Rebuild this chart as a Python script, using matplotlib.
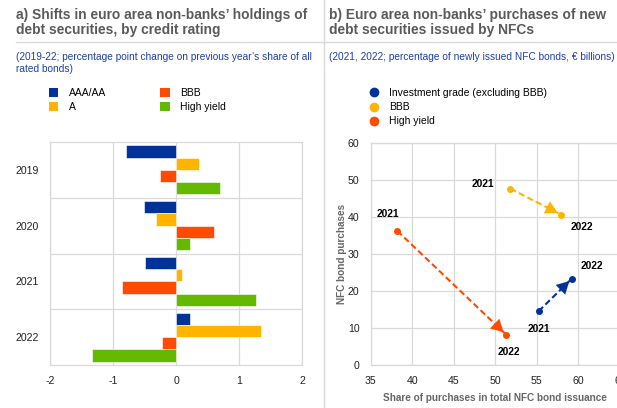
import matplotlib
matplotlib.use("Agg")
import matplotlib.pyplot as plt
from matplotlib.lines import Line2D
from matplotlib.patches import Patch

plt.rcParams['font.family'] = ['Liberation Sans', 'DejaVu Sans']

# ---------------- data ----------------
years = ["2019", "2020", "2021", "2022"]
ratings = ["AAA/AA", "A", "BBB", "High yield"]
aaa_aa = [-0.80, -0.51, -0.49, 0.22]
a_rated = [0.36, -0.31, 0.09, 1.35]
bbb = [-0.25, 0.60, -0.85, -0.23]
high_yield = [0.70, 0.22, 1.27, -1.33]

groups_b = ["Investment grade (excluding BBB)", "BBB", "High yield"]
share_2021 = [55.2, 51.8, 38.2]
share_2022 = [59.2, 57.9, 51.3]
purch_2021 = [14.5, 47.6, 36.2]
purch_2022 = [23.3, 40.6, 8.2]
label_2021_pos = [(55.2, 9.7), (48.5, 48.9), (37.1, 40.8)]
label_2022_pos = [(61.6, 26.7), (60.4, 37.2), (51.6, 3.6)]

BLUE = "#003299"
YELLOW = "#FFB400"
ORANGE = "#FF4B00"
GREEN = "#65B800"
GRID = "#d9d9d9"
TITLE_C = "#5a5a5a"
SUB_C = "#1f3fa8"
TICK_C = "#222222"

W, H = 617, 408
fig = plt.figure(figsize=(W / 100, H / 100), dpi=100)

def fx(px):
    return px / W

def fy(py):
    return 1 - py / H

# separators
fig.add_artist(Line2D([fx(16), 1], [fy(42), fy(42)], color=GRID, lw=1, transform=fig.transFigure))
fig.add_artist(Line2D([fx(324), fx(324)], [0, 1], color=GRID, lw=1, transform=fig.transFigure))

# titles
fig.text(fx(16), fy(8), "a) Shifts in euro area non-banks\u2019 holdings of\ndebt securities, by credit rating",
         ha="left", va="top", fontsize=9.9, fontweight="bold", color=TITLE_C, linespacing=1.12)
fig.text(fx(329), fy(8), "b) Euro area non-banks\u2019 purchases of new\ndebt securities issued by NFCs",
         ha="left", va="top", fontsize=9.9, fontweight="bold", color=TITLE_C, linespacing=1.12)
fig.text(fx(16), fy(52), "(2019-22; percentage point change on previous year\u2019s share of all\nrated bonds)",
         ha="left", va="top", fontsize=7.3, color=SUB_C, linespacing=1.3)
fig.text(fx(329), fy(52), "(2021, 2022; percentage of newly issued NFC bonds, \u20ac billions)",
         ha="left", va="top", fontsize=7.3, color=SUB_C)

# ---------------- panel a ----------------
axa = fig.add_axes([fx(50), fy(365), fx(302 - 50), (365 - 142) / H])
series = [aaa_aa, a_rated, bbb, high_yield]
colors = [BLUE, YELLOW, ORANGE, GREEN]
h = 0.22
offsets = [-1.5 * h, -0.5 * h, 0.5 * h, 1.5 * h]
for vals, c, off, name in zip(series, colors, offsets, ratings):
    axa.barh([i + off for i in range(len(years))], vals, height=h, color=c,
             edgecolor="white", linewidth=0.4, label=name, zorder=3)
axa.set_xlim(-2, 2)
axa.set_ylim(3.5, -0.5)
axa.set_xticks([-2, -1, 0, 1, 2])
axa.set_xticklabels(["-2", "-1", "0", "1", "2"])
axa.set_yticks(range(len(years)))
axa.set_yticklabels(years)
axa.set_yticks([0.5, 1.5, 2.5], minor=True)
axa.grid(True, axis="x", color=GRID, lw=0.9, zorder=0)
axa.grid(True, axis="y", which="minor", color=GRID, lw=0.9, zorder=0)
axa.tick_params(which="both", length=0, labelsize=7.6, colors=TICK_C)
axa.tick_params(axis="y", pad=8)
axa.tick_params(axis="x", pad=8)
for s in axa.spines.values():
    s.set_color(GRID)
    s.set_linewidth(0.9)

handles_a = [Patch(facecolor=c, edgecolor="none", label=n) for c, n in zip(colors, ratings)]
axa.legend(handles=handles_a, ncol=2, loc="upper left", bbox_to_anchor=(fx(49), fy(88)),
           bbox_transform=fig.transFigure, frameon=False, fontsize=7.5,
           handlelength=0.9, handleheight=0.9, handletextpad=1.0, columnspacing=5.2,
           labelspacing=0.4, borderpad=0, borderaxespad=0)

# ---------------- panel b ----------------
axb = fig.add_axes([fx(370.7), fy(365), fx(249.3), (365 - 142.7) / H])
cols_b = [BLUE, YELLOW, ORANGE]
for i, c in enumerate(cols_b):
    x0, x1 = share_2021[i], share_2022[i]
    y0, y1 = purch_2021[i], purch_2022[i]
    axb.plot([x0, x1], [y0, y1], "o", color=c, ms=4, zorder=4)
    axb.plot([x0, x1], [y0, y1], color=c, lw=1.5, ls=(0, (3, 1.6)), zorder=3)
    # solid arrowhead near the 2022 end
    xm, ym = x0 + 0.8 * (x1 - x0), y0 + 0.8 * (y1 - y0)
    axb.annotate("", xy=(x1, y1), xytext=(xm, ym),
                 arrowprops=dict(arrowstyle="-|>,head_length=0.55,head_width=0.3",
                                 color=c, lw=0.1, mutation_scale=16,
                                 shrinkA=0, shrinkB=2.5), zorder=4)
    axb.text(label_2021_pos[i][0], label_2021_pos[i][1], "2021", ha="center", va="center",
             fontsize=7.4, fontweight="bold", color="black")
    axb.text(label_2022_pos[i][0], label_2022_pos[i][1], "2022", ha="center", va="center",
             fontsize=7.4, fontweight="bold", color="black")
axb.set_xlim(35, 65)
axb.set_ylim(0, 60)
axb.set_xticks(range(35, 66, 5))
axb.set_yticks(range(0, 61, 10))
axb.grid(True, color=GRID, lw=0.9, zorder=0)
axb.set_axisbelow(True)
axb.tick_params(length=0, labelsize=7.6, colors=TICK_C, pad=8)
for s in axb.spines.values():
    s.set_color(GRID)
    s.set_linewidth(0.9)
axb.set_ylabel("NFC bond purchases", fontsize=7.2, fontweight="bold", color="#666666", labelpad=1)
axb.set_xlabel("Share of purchases in total NFC bond issuance", fontsize=7.2, fontweight="bold",
               color="#666666", labelpad=5)

handles_b = [Line2D([], [], marker="o", ls="none", color=c, ms=6, label=n)
             for c, n in zip(cols_b, groups_b)]
axb.legend(handles=handles_b, loc="upper left", bbox_to_anchor=(fx(369), fy(88)),
           bbox_transform=fig.transFigure, frameon=False, fontsize=7.5,
           handlelength=1.0, handletextpad=0.9, labelspacing=0.4, borderpad=0, borderaxespad=0)

fig.savefig("out.png", dpi=100)
